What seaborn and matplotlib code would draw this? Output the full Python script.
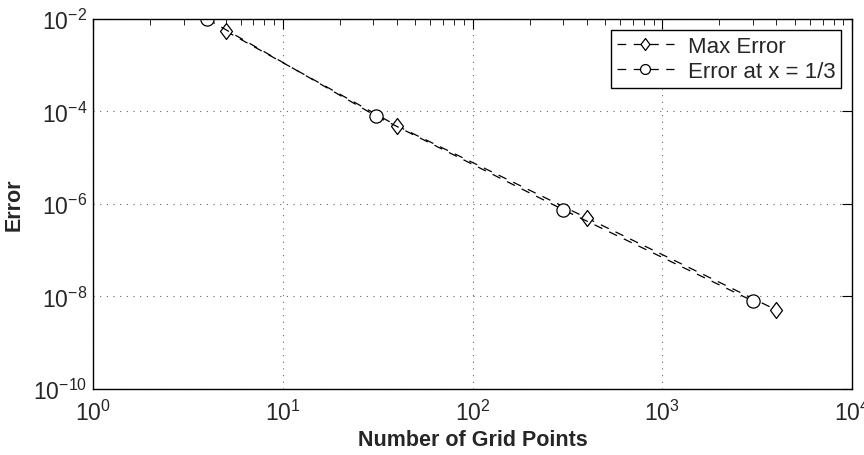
import matplotlib
matplotlib.use("Agg")
import matplotlib.pyplot as plt
import matplotlib.ticker as mticker
from matplotlib.path import Path
import seaborn as sns
import numpy as np
import pandas as pd

# Data
n_max = [5, 40, 400, 4000]
err_max = [5.5e-3, 4.9e-5, 5.0e-7, 5.1e-9]
n_third = [4, 31, 301, 3001]
err_third = [1.0e-2, 8.0e-5, 7.5e-7, 8.0e-9]
series_names = ["Max Error", "Error at x = 1/3"]

sns.set_style("white")
plt.rcParams['font.family'] = ['Liberation Sans', 'DejaVu Sans']
plt.rcParams['mathtext.fontset'] = 'custom'
plt.rcParams['mathtext.rm'] = 'Liberation Sans'
plt.rcParams['mathtext.it'] = 'Liberation Sans:italic'
plt.rcParams['mathtext.bf'] = 'Liberation Sans:bold'

fig = plt.figure(figsize=(8.64, 4.56), dpi=100)
ax = fig.add_axes([93/864, 1-390/456, (852-93)/864, (390-20)/456])

df = pd.concat([
    pd.DataFrame({"N": n_max, "Error": err_max, "Series": series_names[0]}),
    pd.DataFrame({"N": n_third, "Error": err_third, "Series": series_names[1]}),
])

diamond = Path([(0, 1), (0.75, 0), (0, -1), (-0.75, 0), (0, 1)],
               [Path.MOVETO, Path.LINETO, Path.LINETO, Path.LINETO, Path.CLOSEPOLY])

for name, mk, ms in [(series_names[0], diamond, 11.5), (series_names[1], 'o', 9.5)]:
    sub = df[df["Series"] == name]
    sns.lineplot(data=sub, x="N", y="Error", ax=ax, color='black', lw=0.9,
                 marker=mk, markersize=ms, markerfacecolor='white',
                 markeredgecolor='black', markeredgewidth=0.9,
                 linestyle=(0, (7, 6)), label=name)

ax.set_xscale('log')
ax.set_yscale('log')
ax.set_xlim(1, 1e4)
ax.set_ylim(1e-10, 1e-2)
ax.set_yticks([1e-10, 1e-8, 1e-6, 1e-4, 1e-2])
ax.yaxis.set_minor_locator(mticker.NullLocator())
ax.xaxis.set_major_locator(mticker.LogLocator(base=10, numticks=10))
ax.xaxis.set_minor_locator(mticker.LogLocator(base=10, subs=np.arange(2, 10), numticks=20))
ax.xaxis.set_minor_formatter(mticker.NullFormatter())

ax.grid(True, which='major', linestyle=(0, (1, 5)), color='black', lw=0.8, alpha=0.6)
for s in ax.spines.values():
    s.set_color('black')
    s.set_linewidth(1.0)
ax.tick_params(which='both', direction='in', top=True, right=True, color='black',
               labelsize=16.5)
ax.tick_params(axis='x', pad=8)
ax.tick_params(axis='y', pad=4)
ax.tick_params(which='major', length=7, width=0.8)
ax.tick_params(which='minor', length=4, width=0.6)

ax.set_xlabel("Number of Grid Points", fontsize=15.5, fontweight='bold', labelpad=3)
ax.set_ylabel("Error", fontsize=15.5, fontweight='bold', labelpad=6)

leg = ax.legend(loc='upper right', fontsize=16, frameon=True, fancybox=False,
                edgecolor='black', framealpha=1, borderpad=0.25, handlelength=2.6,
                handletextpad=0.6, labelspacing=0.2, borderaxespad=0.5,
                markerscale=0.75)
leg.get_frame().set_linewidth(1.0)

fig.savefig("out.png", dpi=100)
